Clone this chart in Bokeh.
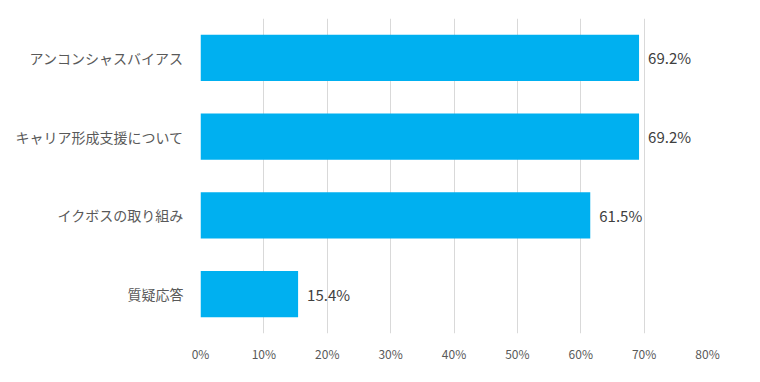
from bokeh.plotting import figure
from bokeh.models import ColumnDataSource, NumeralTickFormatter, FixedTicker
from bokeh.core.properties import value
from bokeh.embed import file_html
from bokeh.resources import INLINE

categories = ["アンコンシャスバイアス", "キャリア形成支援について", "イクボスの取り組み", "質疑応答"]
values = [0.692, 0.692, 0.615, 0.154]
labels = ["69.2%", "69.2%", "61.5%", "15.4%"]
x_ticks = [0, 0.1, 0.2, 0.3, 0.4, 0.5, 0.6, 0.7, 0.8]

factors = list(reversed(categories))
src = ColumnDataSource(dict(cat=categories, val=values, lab=labels))

p = figure(frame_width=507, frame_height=315, y_range=factors, x_range=(0, 0.8),
           output_backend="svg", toolbar_location=None,
           min_border_left=200, min_border_right=37, min_border_top=18, min_border_bottom=30)
p.outline_line_color = None
p.background_fill_color = "white"
p.border_fill_color = "white"

p.hbar(y="cat", right="val", left=0, height=0.585, source=src, color="#00B0F0", line_color=None)
p.text(x="val", y="cat", text="lab", source=src, x_offset=9, text_baseline="middle",
       text_align="left", text_font=value("Noto Sans CJK JP"), text_font_size="15px",
       text_color="#404040")

p.xaxis.ticker = FixedTicker(ticks=x_ticks)
p.xaxis.formatter = NumeralTickFormatter(format="0%")
p.xaxis.axis_line_color = None
p.xaxis.major_tick_line_color = None
p.xaxis.minor_tick_line_color = None
p.xaxis.major_tick_out = 0
p.xaxis.minor_tick_out = 0
p.xaxis.major_label_text_font = "Noto Sans CJK JP"
p.xaxis.major_label_text_font_size = "12px"
p.xaxis.major_label_text_color = "#595959"
p.xaxis.major_label_standoff = 11

p.yaxis.axis_line_color = None
p.yaxis.major_tick_line_color = None
p.yaxis.minor_tick_line_color = None
p.yaxis.major_tick_out = 0
p.yaxis.minor_tick_out = 0
p.yaxis.major_label_text_font = "Noto Sans CJK JP"
p.yaxis.major_label_text_font_size = "14px"
p.yaxis.major_label_text_color = "#595959"
p.yaxis.major_label_standoff = 17

p.xgrid.grid_line_color = "#D9D9D9"
p.xgrid.grid_line_width = 1
p.ygrid.grid_line_color = None

open("out.html", "w").write(file_html(p, INLINE))
